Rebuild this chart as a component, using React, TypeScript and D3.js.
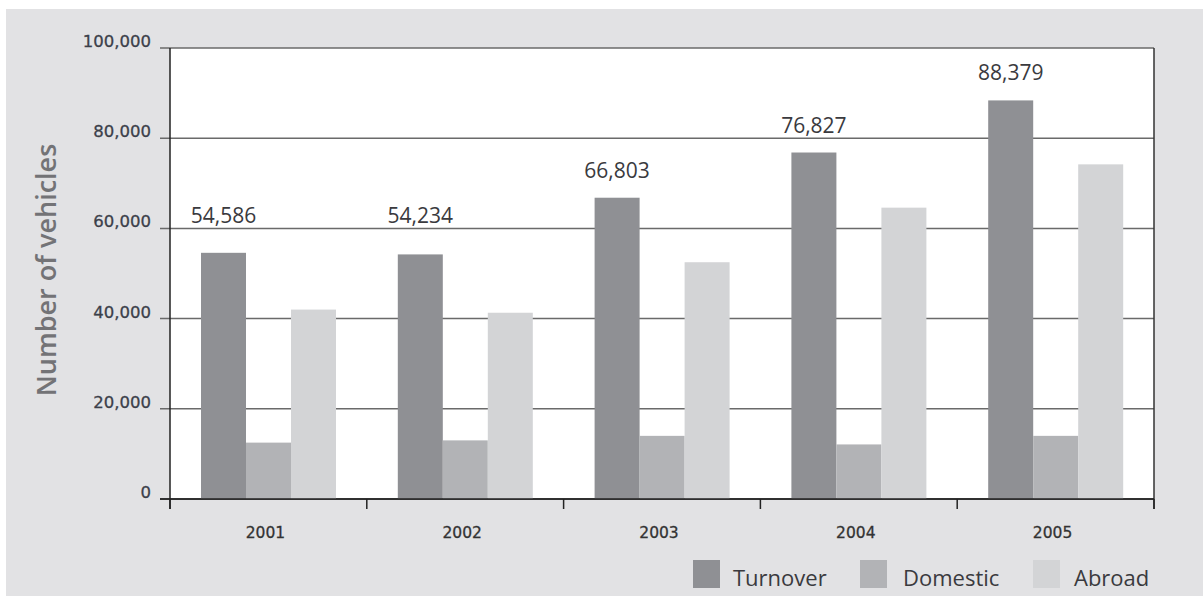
import React from "react";
import * as d3 from "d3";

const years = ["2001", "2002", "2003", "2004", "2005"];
const turnover = [54586, 54234, 66803, 76827, 88379];
const domestic = [12500, 13000, 14000, 12100, 14000];
const abroad = [42000, 41300, 52500, 64600, 74200];
const seriesNames = ["Turnover", "Domestic", "Abroad"];
const seriesColors = ["#8f9094", "#b2b3b6", "#d3d4d6"];
const yTicks = [0, 20000, 40000, 60000, 80000, 100000];

const W = 1203;
const H = 596;
const M = { left: 170, right: 1154, top: 48, bottom: 499 };

export default function App() {
  const x = d3.scaleBand<string>().domain(years).range([M.left, M.right]).padding(0);
  const inner = d3
    .scaleBand<string>()
    .domain(seriesNames)
    .range([31, 31 + 135])
    .padding(0);
  const y = d3.scaleLinear().domain([0, 100000]).range([M.bottom, M.top]);
  const fmt = d3.format(",");
  const series = [turnover, domestic, abroad];

  const labelBaseline = (v: number) => {
    let b = y(v) - 20;
    const capH = 15;
    for (const t of yTicks) {
      const gy = y(t);
      if (gy > b - capH && gy < b + 4) b = gy - 5;
    }
    return b;
  };

  const legendItems = [
    { sq: 693, tx: 733 },
    { sq: 860, tx: 903 },
    { sq: 1033, tx: 1074 },
  ];

  const boundaries = [...years.map((yr) => x(yr)!), M.right];

  return (
    <div style={{ position: "absolute", left: 0, top: 0, width: W, height: H }}>
      <svg width={W} height={H} style={{ display: "block" }}>
        <rect x={0} y={0} width={W} height={H} fill="#ffffff" />
        <rect x={6} y={9} width={W - 6} height={H - 9} fill="#e2e2e4" />
        <rect
          x={M.left}
          y={M.top}
          width={M.right - M.left}
          height={M.bottom - M.top}
          fill="#ffffff"
        />
        {/* gridlines */}
        {yTicks.map((t) => (
          <line
            key={"g" + t}
            x1={M.left - 10}
            x2={M.right}
            y1={y(t)}
            y2={y(t)}
            stroke={t === 0 ? "#2a2a2a" : "#6a6a6a"}
            strokeWidth={1.5}
          />
        ))}
        {/* bars */}
        {years.map((yr, i) =>
          seriesNames.map((s, j) => (
            <rect
              key={yr + s}
              x={x(yr)! + inner(s)!}
              y={y(series[j][i])}
              width={inner.bandwidth()}
              height={y(0) - y(series[j][i])}
              fill={seriesColors[j]}
            />
          ))
        )}
        {/* axes */}
        <line x1={M.left} x2={M.left} y1={M.top} y2={M.bottom + 10} stroke="#222" strokeWidth={1.5} />
        <line x1={M.right} x2={M.right} y1={M.top} y2={M.bottom + 10} stroke="#333" strokeWidth={1.5} />
        <line x1={M.left - 10} x2={M.right} y1={y(0)} y2={y(0)} stroke="#222" strokeWidth={1.5} />
        {boundaries.map((bx, i) => (
          <line key={"t" + i} x1={bx} x2={bx} y1={M.bottom} y2={M.bottom + 10} stroke="#222" strokeWidth={1.5} />
        ))}
        {/* y tick labels */}
        {yTicks.map((t) => (
          <text
            key={"yl" + t}
            x={151}
            y={y(t) - 1}
            textAnchor="end"
            fontFamily="DejaVu Sans"
            fontSize={16.5}
            fill="#3b404a"
            stroke="#3b404a"
            strokeWidth={0.3}
          >
            {fmt(t)}
          </text>
        ))}
        {/* x tick labels */}
        {years.map((yr) => (
          <text
            key={"xl" + yr}
            x={x(yr)! + x.bandwidth() / 2 - 3}
            y={538}
            textAnchor="middle"
            fontFamily="DejaVu Sans"
            fontSize={15.5}
            fill="#333"
            stroke="#333"
            strokeWidth={0.3}
          >
            {yr}
          </text>
        ))}
        {/* value labels */}
        {years.map((yr, i) => (
          <text
            key={"vl" + yr}
            x={x(yr)! + inner("Turnover")! + inner.bandwidth() / 2}
            y={labelBaseline(turnover[i])}
            textAnchor="middle"
            fontFamily="Open Sans"
            fontSize={21}
            fill="#3a3a3e"
          >
            {fmt(turnover[i])}
          </text>
        ))}
        {/* y title */}
        <text
          transform="translate(56,270) rotate(-90)"
          textAnchor="middle"
          fontFamily="Open Sans"
          fontSize={27}
          fontWeight={600}
          fill="#737376"
        >
          Number of vehicles
        </text>
        {/* legend */}
        {seriesNames.map((s, j) => (
          <g key={"lg" + s}>
            <rect x={legendItems[j].sq} y={560} width={27} height={28} fill={seriesColors[j]} />
            <text
              x={legendItems[j].tx}
              y={586}
              fontFamily="Open Sans"
              fontSize={22}
              fill="#3a3a3e"
            >
              {s}
            </text>
          </g>
        ))}
      </svg>
    </div>
  );
}
